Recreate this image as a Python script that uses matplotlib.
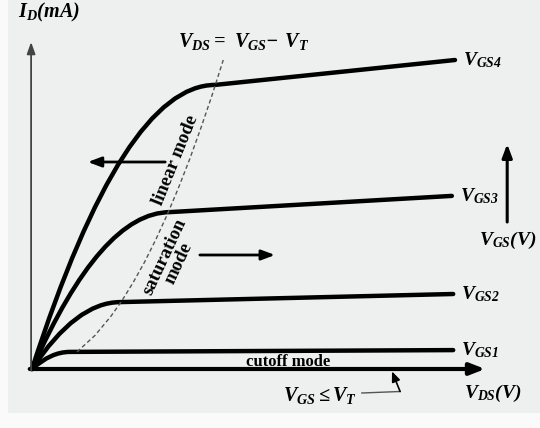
import matplotlib
matplotlib.use("Agg")
import matplotlib.pyplot as plt
from matplotlib.path import Path
from matplotlib.patches import PathPatch, Rectangle

plt.rcParams['mathtext.fontset'] = 'custom'
plt.rcParams['mathtext.rm'] = 'Liberation Serif:bold:italic'
plt.rcParams['mathtext.it'] = 'Liberation Serif:bold:italic'
plt.rcParams['mathtext.bf'] = 'Liberation Serif:bold:italic'

# curve data (V_DS in V, I_D in mA)
curve_labels = [r'$V_{GS4}$', r'$V_{GS3}$', r'$V_{GS2}$', r'$V_{GS1}$']
knee_vds = [4.07, 3.07, 1.96, 0.84]
knee_id = [9.47, 5.23, 2.23, 0.57]
end_vds = [9.40, 9.33, 9.36, 9.36]
end_id = [10.30, 5.77, 2.50, 0.63]

# dashed V_DS = V_GS - V_T boundary
bound_vds = [1.0, 1.4, 1.75, 2.0, 2.25, 2.5, 2.75, 3.0, 3.25, 3.5, 3.75, 4.0, 4.25]
bound_id = [0.57, 1.12, 1.75, 2.28, 2.89, 3.56, 4.31, 5.13, 6.02, 6.98, 8.02, 9.12, 10.3]

vds_max = 10.07   # end of the cutoff line / x axis
id_max = 10.9     # top of the I_D axis

fig = plt.figure(figsize=(5.4, 4.28), dpi=100, facecolor='#fafafa')
fig.patches.append(Rectangle((8 / 540, 15 / 428), 1, 1, transform=fig.transFigure,
                             facecolor='#eef0f0', edgecolor='none', zorder=-10))
ax = fig.add_axes([0, 0, 1, 1])
ax.set_xlim(-32 / 45, 508 / 45)
ax.set_ylim(-59 / 30, 369 / 30)
ax.axis('off')
ax.patch.set_alpha(0)

# output characteristics: parabolic linear region then slowly rising saturation
for kx, ky, ex, ey, lab in zip(knee_vds, knee_id, end_vds, end_id, curve_labels):
    verts = [(0, 0), (kx / 2, ky), (kx, ky), (ex, ey)]
    codes = [Path.MOVETO, Path.CURVE3, Path.CURVE3, Path.LINETO]
    ax.add_patch(PathPatch(Path(verts, codes), facecolor='none', edgecolor='black',
                           lw=3.2, capstyle='round', joinstyle='round'))
    ax.text(ex + 0.17, ey, lab, fontsize=14, ha='left', va='center')

ax.plot(bound_vds, bound_id, color='#555555', lw=1, ls=(0, (3, 2)))

# axes
ax.annotate('', xy=(vds_max, 0), xytext=(-0.05, 0),
            arrowprops=dict(arrowstyle='-|>,head_length=0.9,head_width=0.35',
                            lw=3, color='black', shrinkA=0, shrinkB=0))
ax.annotate('', xy=(-0.02, id_max), xytext=(-0.02, -0.05),
            arrowprops=dict(arrowstyle='-|>,head_length=0.7,head_width=0.25',
                            lw=1.3, color='#444444', shrinkA=0, shrinkB=0))
ax.text(0.38, 11.9, r'$I_D(mA)$', fontsize=14.5, ha='center', va='center')
ax.text(10.24, -0.83, r'$V_{DS}(V)$', fontsize=14, ha='center', va='center')
ax.text(4.69, 10.9, r'$V_{DS}$$=$ $V_{GS}$$-$ $V_T$', fontsize=14.5,
        ha='center', va='center')

# V_GS increasing arrow
ax.annotate('', xy=(10.56, 7.5), xytext=(10.56, 4.9),
            arrowprops=dict(arrowstyle='-|>,head_length=0.8,head_width=0.3',
                            lw=2.2, color='black', shrinkA=0, shrinkB=0))
ax.text(10.58, 4.3, r'$V_{GS}(V)$', fontsize=14, ha='center', va='center')

# region labels
bold = dict(family='Liberation Serif', weight='bold')
ax.text(3.2, 6.97, 'linear mode', rotation=68, ha='center', va='center',
        fontsize=13.5, **bold)
ax.text(3.11, 3.63, 'saturation\nmode', rotation=65, ha='center', va='center',
        linespacing=0.9, fontsize=13.5, **bold)
ax.text(5.69, 0.22, 'cutoff mode', ha='center', va='center', fontsize=12, **bold)

ax.annotate('', xy=(1.24, 6.9), xytext=(2.96, 6.9),
            arrowprops=dict(arrowstyle='-|>,head_length=0.8,head_width=0.3',
                            lw=2, color='black', shrinkA=0, shrinkB=0))
ax.annotate('', xy=(5.4, 3.8), xytext=(3.73, 3.8),
            arrowprops=dict(arrowstyle='-|>,head_length=0.8,head_width=0.3',
                            lw=2, color='black', shrinkA=0, shrinkB=0))

# V_GS <= V_T pointer to the cutoff line
ax.text(6.4, -0.87, r'$V_{GS}\leq V_T$', fontsize=14.5, ha='center', va='center')
ax.plot([7.33, 8.18], [-0.8, -0.75], color='#555555', lw=1)
ax.annotate('', xy=(8.0, -0.08), xytext=(8.18, -0.75),
            arrowprops=dict(arrowstyle='-|>,head_length=0.6,head_width=0.25',
                            lw=1.2, color='black', shrinkA=0, shrinkB=0))

fig.savefig('out.png', dpi=100, facecolor=fig.get_facecolor())
